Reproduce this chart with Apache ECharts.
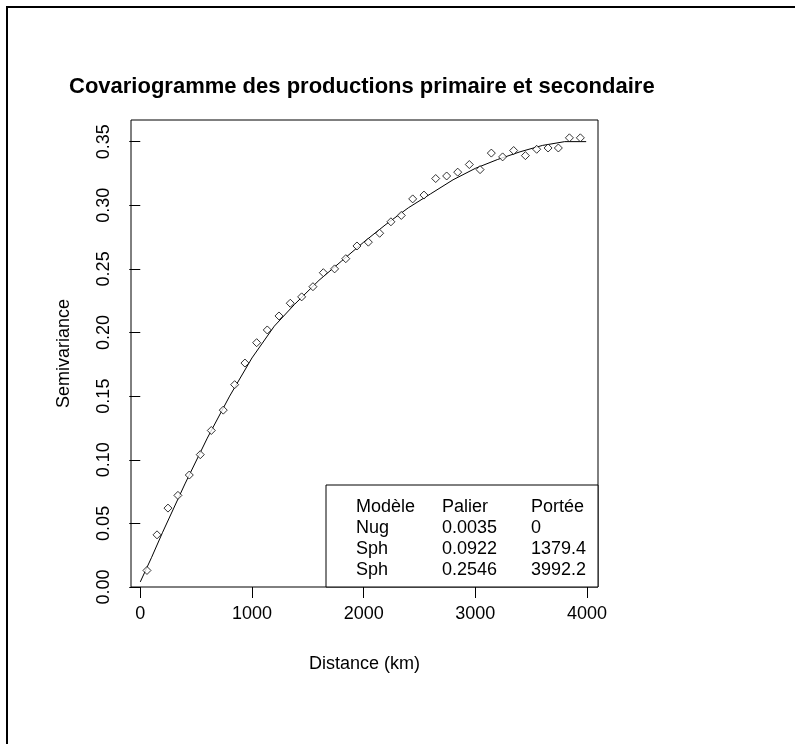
<!DOCTYPE html>
<html>
<head>
<meta charset="utf-8">
<title>Covariogramme</title>
<script src="https://cdn.jsdelivr.net/npm/echarts@6/dist/echarts.min.js"></script>
<style>
  html, body { margin: 0; padding: 0; background: #fff; }
  #chart { width: 795px; height: 744px; }
</style>
</head>
<body>
<div id="chart"></div>
<script>
// semivariogramme experimental : distance (km) et semivariance
var lags = [60, 150, 248, 337, 439, 537, 636, 743, 845, 937,
  1042, 1137, 1242, 1343, 1445, 1546, 1639, 1740, 1840, 1940,
  2042, 2143, 2244, 2337, 2439, 2540, 2645, 2743, 2842, 2946,
  3042, 3143, 3244, 3343, 3448, 3549, 3651, 3743, 3842, 3940]
var semivar = [0.013, 0.041, 0.062, 0.072, 0.088, 0.104, 0.123, 0.139, 0.159, 0.176,
  0.192, 0.202, 0.213, 0.223, 0.228, 0.236, 0.247, 0.250, 0.258, 0.268,
  0.271, 0.278, 0.287, 0.292, 0.305, 0.308, 0.321, 0.323, 0.326, 0.332,
  0.328, 0.341, 0.338, 0.343, 0.339, 0.344, 0.345, 0.345, 0.353, 0.353]

// courbe du modele ajuste
var modelDist = [0, 100, 200, 300, 400, 600, 800, 1000, 1200, 1380,
  1600, 1800, 2000, 2200, 2400, 2600, 2800, 3000, 3200, 3400, 3600, 3800, 3992]
var modelGamma = [0.004, 0.023, 0.043, 0.062, 0.081, 0.117, 0.150, 0.180, 0.205, 0.222,
  0.241, 0.256, 0.271, 0.285, 0.298, 0.309, 0.320, 0.329, 0.336, 0.342, 0.347, 0.350, 0.350]

var xTicks = [0, 1000, 2000, 3000, 4000]
var yTicks = [0, 0.05, 0.10, 0.15, 0.20, 0.25, 0.30, 0.35]

// tableau du modele
var legendHeader = ['Modèle', 'Palier', 'Portée']
var legendModel = ['Nug', 'Sph', 'Sph']
var legendPalier = ['0.0035', '0.0922', '0.2546']
var legendPortee = ['0', '1379.4', '3992.2']

var font = '"Liberation Sans", Arial, sans-serif'

function pairs (xs, ys) {
  return xs.map(function (x, i) { return [x, ys[i]] })
}

function legendGraphics () {
  var cols = [356, 442, 531]
  var rows = [legendHeader]
  for (var i = 0; i < legendModel.length; i++) {
    rows.push([legendModel[i], legendPalier[i], legendPortee[i]])
  }
  var els = [{
    type: 'rect',
    shape: { x: 326, y: 485, width: 272, height: 102 },
    style: { fill: '#fff', stroke: '#000', lineWidth: 1 },
    z: 10
  }]
  rows.forEach(function (row, r) {
    row.forEach(function (txt, c) {
      els.push({
        type: 'text',
        x: cols[c],
        y: 507 + r * 21,
        style: { text: txt, font: '18px ' + font, fill: '#000', verticalAlign: 'middle' },
        z: 11
      })
    })
  })
  return els
}

var chart = echarts.init(document.getElementById('chart'))
chart.setOption({
  animation: false,
  backgroundColor: '#fff',
  title: {
    text: 'Covariogramme des productions primaire et secondaire',
    left: 69,
    top: 76,
    padding: 0,
    textStyle: { fontFamily: font, fontSize: 22, fontWeight: 'bold', color: '#000' }
  },
  grid: {
    left: 131, top: 120, width: 467, height: 467,
    show: true, borderColor: '#000', borderWidth: 1, backgroundColor: 'transparent'
  },
  xAxis: {
    type: 'value',
    min: -83,
    max: 4098,
    name: 'Distance (km)',
    nameLocation: 'middle',
    nameGap: 68,
    nameTextStyle: { fontFamily: font, fontSize: 18, color: '#000' },
    axisLine: { show: false },
    splitLine: { show: false },
    axisTick: { show: true, inside: false, length: 11, customValues: xTicks, lineStyle: { color: '#000' } },
    axisLabel: {
      customValues: xTicks,
      margin: 18,
      fontFamily: font,
      fontSize: 18,
      color: '#000',
      formatter: function (v) { return String(v) }
    }
  },
  yAxis: {
    type: 'value',
    min: 0,
    max: 0.367,
    name: 'Semivariance',
    nameLocation: 'middle',
    nameGap: 58,
    nameTextStyle: { fontFamily: font, fontSize: 18, color: '#000' },
    axisLine: { show: false },
    splitLine: { show: false },
    axisTick: { show: true, inside: false, length: 11, customValues: yTicks, lineStyle: { color: '#000' } },
    axisLabel: {
      customValues: yTicks,
      rotate: 90,
      margin: 18,
      fontFamily: font,
      fontSize: 18,
      color: '#000',
      formatter: function (v) { return v.toFixed(2) }
    }
  },
  series: [
    {
      name: 'modele',
      type: 'line',
      data: pairs(modelDist, modelGamma),
      showSymbol: false,
      lineStyle: { color: '#000', width: 1 },
      z: 2
    },
    {
      name: 'experimental',
      type: 'scatter',
      data: pairs(lags, semivar),
      symbol: 'diamond',
      symbolSize: 8,
      itemStyle: { color: '#fff', borderColor: '#000', borderWidth: 1 },
      z: 3
    }
  ],
  graphic: [{
    type: 'rect',
    shape: { x: 7, y: 7, width: 820, height: 780 },
    style: { fill: 'none', stroke: '#000', lineWidth: 2 }
  }].concat(legendGraphics())
})
</script>
</body>
</html>
